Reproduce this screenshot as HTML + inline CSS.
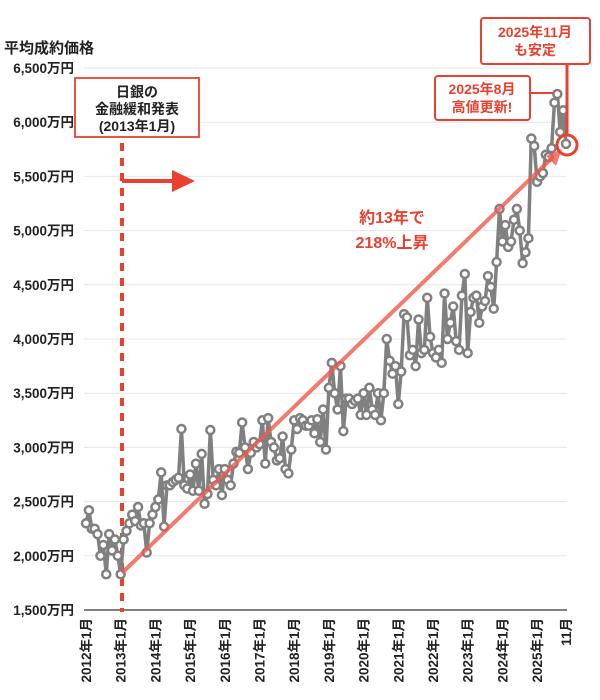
<!DOCTYPE html>
<html><head><meta charset="utf-8"><style>
html,body{margin:0;padding:0;background:#fff}
svg{display:block;font-family:"Liberation Sans","Noto Sans CJK JP",sans-serif}
</style></head><body>
<svg id="s" width="600" height="700" viewBox="0 0 600 700">
<text x="4" y="53" font-size="15" font-weight="bold" fill="#222">平均成約価格</text>
<g id="grid"></g>
<line x1="84" y1="610" x2="567" y2="610" stroke="#555" stroke-width="1.5"/>
<g id="xl"></g>
<line x1="122" y1="143" x2="122" y2="612" stroke="#e8412f" stroke-width="4" stroke-dasharray="8,7"/>
<polyline points="122,181 175,181" stroke="#e8412f" stroke-width="4" fill="none"/>
<polygon points="172,170 195,181 172,192" fill="#e8412f"/>
<rect x="75" y="78" width="124" height="59" fill="#fff" stroke="#e8412f" stroke-width="1.8"/>
<text x="137" y="97" font-size="14" text-anchor="middle" fill="#222" font-weight="bold">日銀の</text>
<text x="137" y="114" font-size="14" text-anchor="middle" fill="#222" font-weight="bold">金融緩和発表</text>
<text x="137" y="131" font-size="14" text-anchor="middle" fill="#222" font-weight="bold">(2013年1月)</text>
<g id="series"></g>
<line x1="122" y1="573" x2="553" y2="157" stroke="#ee5a4a" stroke-opacity="0.8" stroke-width="4"/>
<polygon points="562,149 546,156 556,166" fill="#ee5a4a" fill-opacity="0.8"/>
<text x="392" y="223" font-size="16" text-anchor="middle" fill="#e8412f" font-weight="bold">約13年で</text>
<text x="392" y="248" font-size="16" text-anchor="middle" fill="#e8412f" font-weight="bold">218%上昇</text>
<rect x="481" y="18" width="109" height="46" rx="3" fill="#fff" stroke="#e8412f" stroke-width="2"/>
<text x="535" y="37" font-size="14" text-anchor="middle" fill="#e8412f" font-weight="bold">2025年11月</text>
<text x="535" y="55" font-size="14" text-anchor="middle" fill="#e8412f" font-weight="bold">も安定</text>
<line x1="567" y1="64" x2="567" y2="136" stroke="#e8412f" stroke-width="3"/>
<circle cx="567" cy="145" r="10" fill="none" stroke="#e8412f" stroke-width="3"/>
<rect x="435" y="76" width="95" height="44" rx="3" fill="#fff" stroke="#e8412f" stroke-width="2"/>
<text x="482" y="94" font-size="14" text-anchor="middle" fill="#e8412f" font-weight="bold">2025年8月</text>
<text x="482" y="112" font-size="14" text-anchor="middle" fill="#e8412f" font-weight="bold">高値更新!</text>
<line x1="530" y1="93" x2="553" y2="93" stroke="#e8412f" stroke-width="2"/>
</svg>
<script>
const NS="http://www.w3.org/2000/svg";
function el(t,a,p){const e=document.createElementNS(NS,t);for(const k in a)e.setAttribute(k,a[k]);if(p)p.appendChild(e);return e;}
const Y=v=>610-(v-1500)/500*54.2;
const g=document.getElementById('grid');
for(let v=1500;v<=6500;v+=500){
 if(v>1500)el('line',{x1:84,x2:567,y1:Y(v),y2:Y(v),stroke:'#e6e6e6','stroke-width':1},g);
 const t=el('text',{x:74,y:Y(v)+5,'font-size':13.5,'font-weight':'bold','text-anchor':'end',fill:'#222'},g);
 t.textContent=v.toLocaleString('en-US')+'万円';
}
const xl=document.getElementById('xl');
const X0=86,YR=34.7,MO=YR/12;
for(let i=0;i<=14;i++){
 const x=i<14?X0+i*YR:X0+13*YR+10*MO;
 const lab=i<14?(2012+i)+'年1月':'11月';
 const t=el('text',{transform:`translate(${x+5},618) rotate(-90)`,'font-size':13.5,'font-weight':'bold','text-anchor':'end',fill:'#222'},xl);
 t.textContent=lab;
}
const d=[2300,2420,2250,2250,2200,2000,2100,1830,2200,2050,2150,2000,
1830,2150,2230,2300,2380,2320,2450,2280,2300,2030,2300,2380,
2450,2520,2770,2270,2650,2650,2680,2700,2720,3170,2650,2620,
2750,2600,2850,2600,2940,2480,2570,3160,2700,2650,2800,2560,
2800,2700,2650,2850,2960,2950,3230,3000,2800,2950,3050,3000,
3030,3250,2850,3270,3050,3000,2880,2900,3100,2800,2760,2980,
3250,3170,3270,3250,3200,3200,3250,3130,3260,3050,3350,2980,
3550,3780,3500,3350,3750,3150,3450,3450,3400,3430,3450,3300,
3500,3300,3550,3350,3300,3500,3250,3500,4000,3800,3680,3750,
3400,3700,4230,4200,3850,3900,3750,4180,3870,3900,4380,4020,
3870,3830,3900,3780,4420,4000,4150,4300,3980,3900,4400,4600,
3870,4250,4380,4400,4150,4300,4350,4580,4480,4280,4710,5200,
4900,5050,4850,4900,5100,5200,5000,4700,4800,4930,5850,5780,
5450,5500,5530,5700,5680,5760,6180,6260,5910,6110,5800];
const s=document.getElementById('series');
const pts=d.map((v,i)=>[X0+i*MO,Y(v)]);
el('polyline',{points:pts.map(p=>p.join(',')).join(' '),fill:'none',stroke:'#808080','stroke-width':3.5,'stroke-linejoin':'round'},s);
pts.forEach(p=>el('circle',{cx:p[0],cy:p[1],r:4,fill:'#fff',stroke:'#808080','stroke-width':2.5},s));
</script>
</body></html>
